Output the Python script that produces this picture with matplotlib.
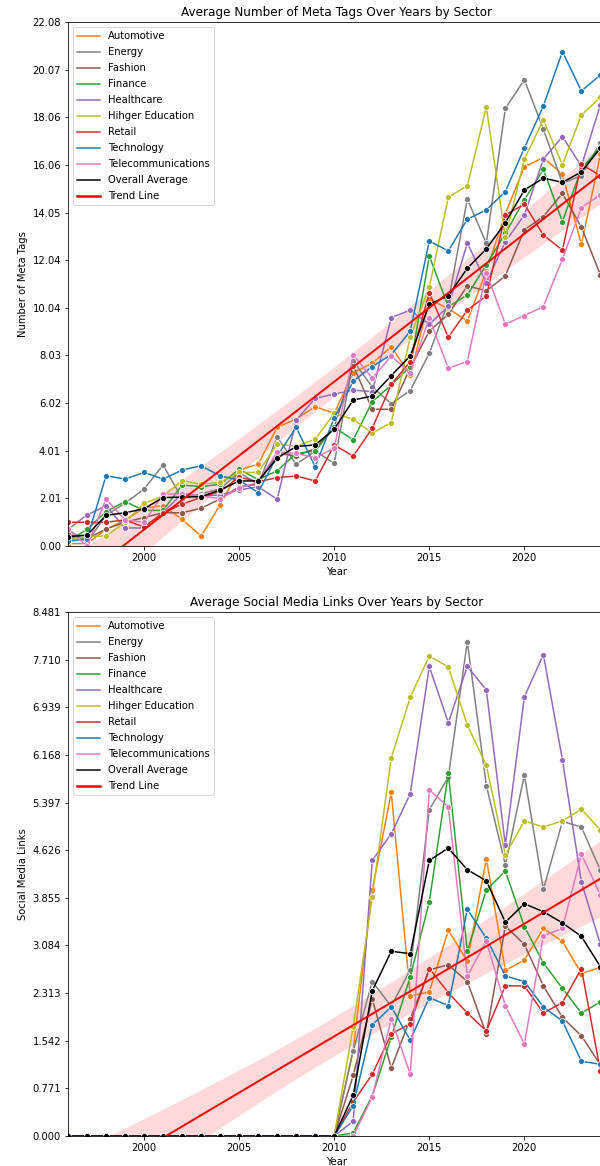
import numpy as np
import matplotlib
matplotlib.use("Agg")
import matplotlib.pyplot as plt
from matplotlib.lines import Line2D

years = list(range(1996, 2025))

sectors = ["Automotive", "Energy", "Fashion", "Finance", "Healthcare",
           "Hihger Education", "Retail", "Technology", "Telecommunications"]
colors = ["#ff7f0e", "#7f7f7f", "#8c564b", "#2ca02c", "#9467bd",
          "#bcbd22", "#d62728", "#1f77b4", "#e377c2"]

# average number of meta tags, 1996..2024
meta_automotive = [0.1, 0.1, 0.7, 1.1, 1.6, 1.7, 1.12, 0.42, 1.73, 3.2, 3.45, 5.0, 5.35, 5.87, 5.59,
                   7.3, 7.7, 8.4, 7.2, 10.4, 10.0, 9.48, 11.6, 14.0, 15.98, 16.36, 15.66, 12.71, 16.5]
meta_energy = [0.7, 0.15, 1.3, 1.8, 2.4, 3.41, 2.0, 2.2, 2.4, 3.1, 2.6, 4.58, 3.44, 4.0, 3.48,
               7.8, 6.7, 6.0, 6.55, 8.12, 10.29, 14.62, 12.75, 18.44, 19.64, 17.56, 15.28, 15.6, 17.0]
meta_fashion = [0.5, 0.3, 0.72, 1.0, 1.2, 1.4, 1.40, 1.59, 1.98, 2.5, 2.6, 3.9, 3.8, 4.1, 5.0,
                7.6, 5.76, 5.76, 7.5, 9.06, 9.76, 10.96, 10.75, 11.38, 13.32, 13.88, 14.86, 13.43, 11.42]
meta_finance = [0.2, 0.7, 1.45, 1.87, 1.5, 1.5, 2.57, 2.5, 2.6, 3.23, 2.8, 3.17, 3.9, 4.0, 5.0,
                4.47, 6.08, 6.78, 7.56, 12.22, 10.08, 10.58, 11.84, 13.18, 14.58, 15.87, 13.67, 15.9, 16.8]
meta_healthcare = [0.7, 1.31, 1.69, 0.76, 0.76, 1.4, 2.22, 2.1, 2.15, 2.36, 2.5, 1.97, 5.3, 6.22, 6.40,
                   6.57, 6.5, 9.62, 9.94, 9.34, 10.1, 12.76, 11.1, 12.82, 13.95, 16.3, 17.25, 16.0, 18.6]
meta_higher_ed = [0.25, 0.4, 0.42, 1.0, 1.8, 2.1, 2.75, 2.6, 2.68, 3.1, 3.1, 4.3, 4.2, 4.5, 5.59,
                  5.34, 4.75, 5.2, 8.82, 10.9, 14.69, 15.18, 18.49, 13.0, 16.3, 17.95, 16.06, 18.16, 18.9]
meta_retail = [1.0, 1.0, 1.0, 1.1, 0.8, 1.4, 1.76, 2.05, 2.3, 2.9, 2.71, 2.88, 2.95, 2.74, 4.25,
               3.79, 4.96, 6.81, 7.77, 10.68, 8.79, 9.94, 10.54, 13.95, 14.4, 13.1, 12.47, 16.08, 15.6]
meta_technology = [0.2, 0.3, 2.96, 2.82, 3.10, 2.82, 3.20, 3.38, 2.95, 2.78, 2.25, 3.8, 5.0, 3.34, 5.4,
                   6.95, 7.56, 8.06, 9.06, 12.85, 12.43, 13.77, 14.16, 14.93, 16.77, 18.54, 20.83, 19.17, 19.85]
meta_telecom = [0.7, 0.0, 1.98, 1.1, 1.0, 2.18, 2.2, 2.1, 2.0, 2.43, 2.7, 3.97, 3.9, 3.72, 4.12,
                8.05, 7.07, 8.0, 7.3, 9.6, 7.49, 7.77, 11.52, 9.34, 9.71, 10.09, 12.09, 14.26, 14.8]
meta_overall = [0.39, 0.46, 1.29, 1.40, 1.57, 2.04, 2.06, 2.08, 2.36, 2.74, 2.74, 3.70, 4.19, 4.26, 4.92,
                6.15, 6.32, 7.18, 8.01, 10.18, 10.54, 11.70, 12.52, 13.62, 15.0, 15.5, 15.32, 15.76, 16.77]

# average social media links, 1996..2024 (none before 2011)
z = [0.0] * 15
social_automotive = z + [1.4, 3.98, 5.56, 2.27, 2.33, 3.33, 2.83, 4.49, 2.68, 2.85, 3.36, 3.15, 2.63, 2.73]
social_energy = z + [1.38, 2.5, 2.1, 2.69, 5.28, 5.81, 8.0, 5.67, 4.39, 5.84, 3.99, 5.09, 5.0, 4.3]
social_fashion = z + [0.98, 2.22, 1.10, 1.9, 2.69, 2.77, 2.5, 1.65, 3.4, 3.1, 2.43, 1.92, 1.62, 1.15]
social_finance = z + [0.05, 0.65, 1.6, 2.58, 3.79, 5.87, 2.99, 3.98, 4.29, 3.39, 2.8, 2.39, 1.99, 2.17]
social_healthcare = z + [0.24, 4.46, 4.89, 5.54, 7.6, 6.69, 7.6, 7.22, 4.71, 7.11, 7.79, 6.09, 4.11, 3.1]
social_higher_ed = z + [1.77, 3.87, 6.12, 7.1, 7.77, 7.59, 6.65, 6.0, 4.55, 5.1, 5.0, 5.1, 5.29, 4.95]
social_retail = z + [0.55, 1.0, 1.65, 1.82, 2.71, 2.32, 1.99, 1.7, 2.43, 2.43, 1.99, 2.16, 2.71, 1.05]
social_technology = z + [0.49, 1.8, 2.09, 1.55, 2.24, 2.11, 3.67, 3.2, 2.59, 2.5, 2.09, 1.86, 1.21, 1.16]
social_telecom = z + [0.0, 0.63, 1.9, 1.0, 5.6, 5.33, 2.59, 3.15, 2.11, 1.49, 3.24, 3.36, 4.56, 3.9]
social_overall = z + [0.66, 2.35, 2.99, 2.95, 4.46, 4.66, 4.31, 4.13, 3.46, 3.76, 3.63, 3.45, 3.23, 2.74]

meta_series = [meta_automotive, meta_energy, meta_fashion, meta_finance, meta_healthcare,
               meta_higher_ed, meta_retail, meta_technology, meta_telecom]
social_series = [social_automotive, social_energy, social_fashion, social_finance, social_healthcare,
                 social_higher_ed, social_retail, social_technology, social_telecom]


def draw_panel(ax, series, overall, ymax, fmt, title, ylabel, band):
    x = np.array(years, dtype=float)
    for vals, c in zip(series, colors):
        ax.plot(x, vals, color=c, lw=1.5, marker='o', ms=6, mec='white', mew=0.75)
    ax.plot(x, overall, color='black', lw=1.5, marker='o', ms=6, mec='white', mew=0.75)

    ax.set_xlim(1996, 2024.24)
    ax.set_ylim(0, ymax)

    # linear trend of the overall average with confidence band
    y = np.array(overall)
    slope, inter = np.polyfit(x, y, 1)
    n = len(x)
    resid = y - (slope * x + inter)
    s = np.sqrt(np.sum(resid ** 2) / (n - 2))
    xs = np.linspace(ax.get_xlim()[0], ax.get_xlim()[1], 200)
    se = s * np.sqrt(1.0 / n + (xs - x.mean()) ** 2 / np.sum((x - x.mean()) ** 2))
    yfit = slope * xs + inter
    ax.fill_between(xs, yfit - band * se, yfit + band * se, color='red', alpha=0.15, lw=0)
    ax.plot(xs, yfit, color='red', lw=2)

    ticks = np.linspace(0, ymax, 12)
    ax.set_yticks(ticks)
    ax.set_yticklabels([fmt.format(t) for t in ticks])
    ax.set_title(title, fontsize=12)
    ax.set_xlabel('Year')
    ax.set_ylabel(ylabel)

    handles = [Line2D([], [], color=c, lw=1.5) for c in colors]
    handles += [Line2D([], [], color='black', lw=1.5), Line2D([], [], color='red', lw=2.5)]
    labels = sectors + ['Overall Average', 'Trend Line']
    ax.legend(handles, labels, loc='upper left', fontsize=10,
              handlelength=2.3, labelspacing=0.6)


fig = plt.figure(figsize=(600 / 72, 1166 / 72), dpi=72)
ax1 = fig.add_axes([68 / 600, 1 - 546 / 1166, 537 / 600, 524 / 1166])
ax2 = fig.add_axes([68 / 600, 1 - 1136 / 1166, 537 / 600, 524 / 1166])

draw_panel(ax1, meta_series, meta_overall, 22.077, '{:.2f}',
           'Average Number of Meta Tags Over Years by Sector', 'Number of Meta Tags', 2.45)
draw_panel(ax2, social_series, social_overall, 8.481, '{:.3f}',
           'Average Social Media Links Over Years by Sector', 'Social Media Links', 1.7)

fig.savefig('out.png', dpi=72)
